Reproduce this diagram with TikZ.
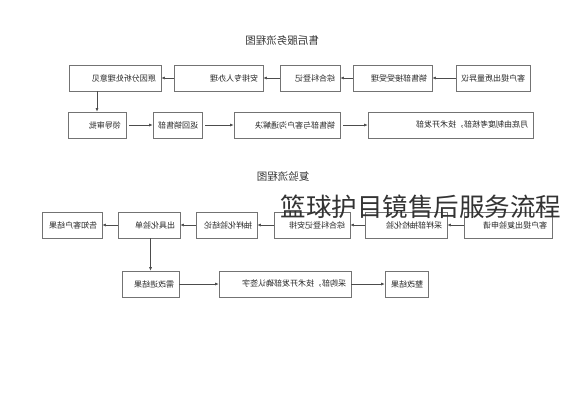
\documentclass[tikz,border=0pt]{standalone}
\usepackage{graphicx}
\usepackage{fontspec}
\newfontfamily\cjk{Noto Sans CJK SC}
\usetikzlibrary{arrows.meta}
\newcommand{\fl}[1]{\reflectbox{#1}}

\tikzset{
  box/.style={draw=black!55, line width=0.7pt, minimum height=26pt, inner xsep=5pt,
    inner ysep=0pt, align=right, text=black!85, font=\cjk\fontsize{8}{9.5}\selectfont},
  arr/.style={-{Latex[length=3.5pt,width=3pt]}, draw=black!70, line width=0.6pt},
  ttl/.style={text=black!80, font=\cjk\fontsize{10.5}{12}\selectfont}
}

\begin{document}
\begin{tikzpicture}[x=1pt,y=-1pt]
\useasboundingbox[fill=white] (0,0) rectangle (565,400);

% first chart
\node[ttl] (t1) at (282,41) {\fl{售后服务流程图}};
\node[box, text width=82pt] (A) at (115,78) {\fl{原因分析处理意见}};
\node[box, text width=79pt] (B) at (218.5,78) {\fl{安排专人办理}};
\node[box, text width=50pt] (C) at (310,78) {\fl{综合科登记}};
\node[box, text width=69pt] (D) at (392.5,78) {\fl{销售部接受受理}};
\node[box, text width=64pt] (E) at (493,78) {\fl{客户提出质量异议}};
\node[box, text width=48pt] (F) at (97,125) {\fl{领导审批}};
\node[box, text width=39pt] (G) at (177.5,125) {\fl{返回销售部}};
\node[box, text width=96pt] (H) at (287,125) {\fl{销售部与客户沟通解决}};
\node[box, text width=155pt] (I) at (450.5,125) {\fl{月底由制度考核部，技术开发部}};
\draw[arr] (E) -- (D);
\draw[arr] (D) -- (C);
\draw[arr] (C) -- (B);
\draw[arr] (B) -- (A);
\draw[arr] (F.north |- A.south) -- (F.north);
\draw[arr, shorten <=3pt] (F) -- (G);
\draw[arr, shorten <=3pt] (G) -- (H);
\draw[arr, shorten <=3pt] (H) -- (I);

% second chart
\node[ttl] (t2) at (283,176) {\fl{复验流程图}};
\node[box, text width=50pt] (J) at (72,225) {\fl{告知客户结果}};
\node[box, text width=52pt] (K) at (149,225) {\fl{出具化验单}};
\node[box, text width=51pt] (L) at (226.5,225) {\fl{抽样化验结论}};
\node[box, text width=66pt] (M) at (312,225) {\fl{综合科登记安排}};
\node[box, text width=72pt] (N) at (406,225) {\fl{采样部抽检化验}};
\node[box, text width=78pt] (O) at (508,225) {\fl{客户提出复验申请}};
\node[box, text width=47pt] (P) at (150.5,284) {\fl{需改进结果}};
\node[box, text width=122pt] (Q) at (285,284) {\fl{采购部，技术开发部确认签字}};
\node[box, text width=33pt] (R) at (406.5,284) {\fl{整改结果}};
\draw[arr] (O) -- (N);
\draw[arr] (N) -- (M);
\draw[arr] (M) -- (L);
\draw[arr] (L) -- (K);
\draw[arr] (K) -- (J);
\draw[arr] (P.north |- K.south) -- (P.north);
\draw[arr] (P) -- (Q);
\draw[arr] (Q) -- (R);

\node[text=black!80, font=\cjk\fontsize{25.5}{28}\selectfont] (cap) at (421,207) {篮球护目镜售后服务流程};
\end{tikzpicture}
\end{document}
